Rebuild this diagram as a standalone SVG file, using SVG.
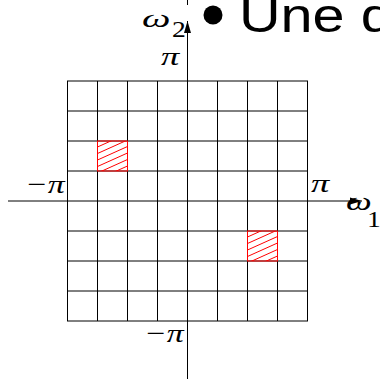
<svg xmlns="http://www.w3.org/2000/svg" width="380" height="379" viewBox="0 0 380 379">
<style>
.g{stroke:#000;stroke-width:1;fill:none}
.m{font-family:"Liberation Serif",serif;font-style:italic;font-size:26px;fill:#000}
.s{font-family:"Liberation Serif",serif;font-size:24px;fill:#000}
.t{font-family:"Liberation Sans",Arial,sans-serif;font-size:48px;fill:#000}
.r{stroke:#ff0000;stroke-width:1;fill:none}
.hl{stroke:#ff0000;stroke-width:1}
</style>
<defs>
<symbol id="hatch" viewBox="0 0 30 30" overflow="hidden">
<path class="hl" d="M0,6L30,-7.5M0,12.5L30,-1M0,19L30,5.5M0,25.5L30,12M0,32L30,18.5M0,38.5L30,25M0,45L30,31.5"/>
</symbol>
<marker id="a" markerWidth="12" markerHeight="14" refX="12" refY="7" orient="auto" markerUnits="userSpaceOnUse">
<path d="M0,3.5 L12,7 L0,10.5 Z" fill="#000"/>
</marker>
</defs>
<rect width="380" height="379" fill="#fff"/>
<g id="grid" class="g">
<path d="M67.5,81V321M97.5,81V321M127.5,81V321M157.5,81V321M217.5,81V321M247.5,81V321M277.5,81V321M307.5,81V321"/>
<path d="M67,81H308M67,111H308M67,141H308M67,171H308M67,231H308M67,261H308M67,291H308M67,321H308"/>
</g>
<g id="cell1">
<use href="#hatch" x="97.5" y="141" width="30" height="30"/>
<rect class="r" x="97.5" y="141" width="30" height="30"/>
</g>
<g id="cell2">
<use href="#hatch" x="247.5" y="231" width="30" height="30"/>
<rect class="r" x="247.5" y="231" width="30" height="30"/>
</g>
<g id="connectors" class="g">
<line x1="8" y1="201" x2="362" y2="201" marker-end="url(#a)"/>
<line x1="187.5" y1="379" x2="187.5" y2="21" marker-end="url(#a)"/>
<line x1="187.5" y1="0" x2="187.5" y2="5"/>
</g>
<g id="labels">
<text class="m" transform="translate(142,27) scale(1.55,1)">ω</text>
<text class="s" transform="translate(172,37) scale(1.15,1)">2</text>
<text class="m" transform="translate(161,65) scale(1.4,1)">π</text>
<text class="m" transform="translate(25,193) scale(1.3,1)">−π</text>
<text class="m" transform="translate(311,192) scale(1.4,1)">π</text>
<text class="m" transform="translate(346,210) scale(1.4,1)">ω</text>
<text class="s" transform="translate(367,227) scale(1.15,1)">1</text>
<text class="m" transform="translate(144,342) scale(1.3,1)">−π</text>
</g>
<g id="title">
<circle cx="213" cy="15" r="9.5" fill="#000"/>
<text class="t" transform="translate(239,32) scale(1.2,1)">Une d</text>
</g>
</svg>
